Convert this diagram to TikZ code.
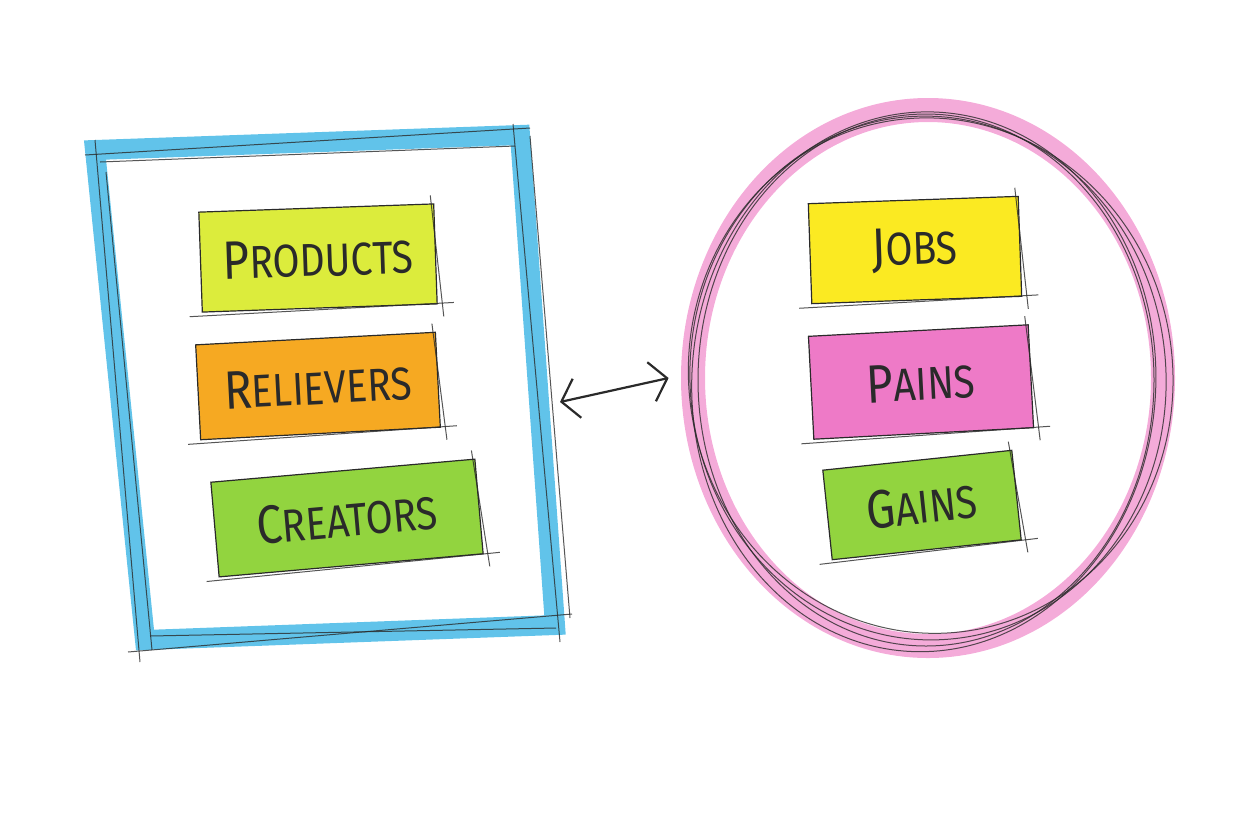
\documentclass[tikz,border=0pt]{standalone}
\usepackage{fontspec}
\newfontfamily\hand[FakeStretch=0.85]{Fira Sans}
\definecolor{ink}{HTML}{2A2A2A}
\definecolor{sky}{HTML}{45B9E6}
\definecolor{rose}{HTML}{F29CD2}
\definecolor{cprod}{HTML}{DCEC3C}
\definecolor{crel}{HTML}{F6A922}
\definecolor{ccre}{HTML}{92D43F}
\definecolor{cjob}{HTML}{FBEA22}
\definecolor{cpain}{HTML}{EE7AC7}
\definecolor{cgain}{HTML}{92D43F}
\usetikzlibrary{arrows.meta,positioning,shapes.geometric}
\newcommand\hw[2]{{\fontsize{27}{27}\selectfont#1}{\fontsize{23}{23}\selectfont#2}}
\tikzset{
  >={Straight Barb[length=8pt,width=20pt]},
  tag/.style={draw=ink,line width=0.6pt,inner sep=0pt,font=\hand,text=ink},
  frm/.style={draw=sky,line width=10pt,line join=miter,opacity=.85},
  ring/.style={draw=rose,line width=12pt,opacity=.85},
  sk/.style={draw=ink,line width=0.5pt,opacity=.8},
  arr/.style={<->,draw=ink,line width=1.1pt},
}
\begin{document}
\begin{tikzpicture}[x=0.5pt,y=-0.5pt]
\useasboundingbox (0,0) rectangle (1248,832);
% value map
\draw[frm] (95,150) -- (520,135) -- (555,625) -- (145,640) -- cycle;
\draw[sk] (85,155) -- (530,128); \draw[sk] (100,162) -- (515,146);
\draw[sk] (95,140) -- (140,662); \draw[sk] (106,172) -- (152,650);
\draw[sk] (513,124) -- (560,642); \draw[sk] (530,136) -- (570,618);
\draw[sk] (128,652) -- (572,614); \draw[sk] (150,636) -- (556,628);
% customer profile
\node[ellipse,minimum width=235pt,minimum height=270pt] (cust) at (928,378) {};
\draw[ring] (cust.center) ellipse [x radius=235,y radius=268];
\foreach \dx/\dy/\rx/\ry/\a in {0/0/238/262/4,-4/4/232/270/-3,3/-2/242/258/8,-2/2/228/266/0}
  \draw[sk,rotate around={\a:(928,378)}] (928+\dx,378+\dy) ellipse [x radius=\rx,y radius=\ry];
% tags
\foreach \n/\c/\x/\y/\w/\h/\r/\a/\b in {
  prod/cprod/318/258/235/100/2/P/RODUCTS,
  rel/crel/318/386/240/95/3/R/ELIEVERS,
  cre/ccre/347/518/265/95/5/C/REATORS,
  job/cjob/915/250/210/100/2/J/OBS,
  pain/cpain/921/382/220/103/3/P/AINS,
  gain/cgain/922/505/190/90/6/G/AINS}{
  \node[tag,fill=\c,minimum width=\w*0.5pt,minimum height=\h*0.5pt,rotate=\r] (\n) at (\x,\y) {\hw{\a}{\b}};
  \draw[sk] ([shift={(-6pt,-2pt)}]\n.south west) -- ([shift={(8pt,1pt)}]\n.south east);
  \draw[sk] ([shift={(-2pt,4pt)}]\n.north east) -- ([shift={(3pt,-6pt)}]\n.south east);
}
% link
\coordinate (pv) at (560,402);
\draw[arr] (pv) -- ([xshift=-12pt]cust.west);
\end{tikzpicture}
\end{document}
